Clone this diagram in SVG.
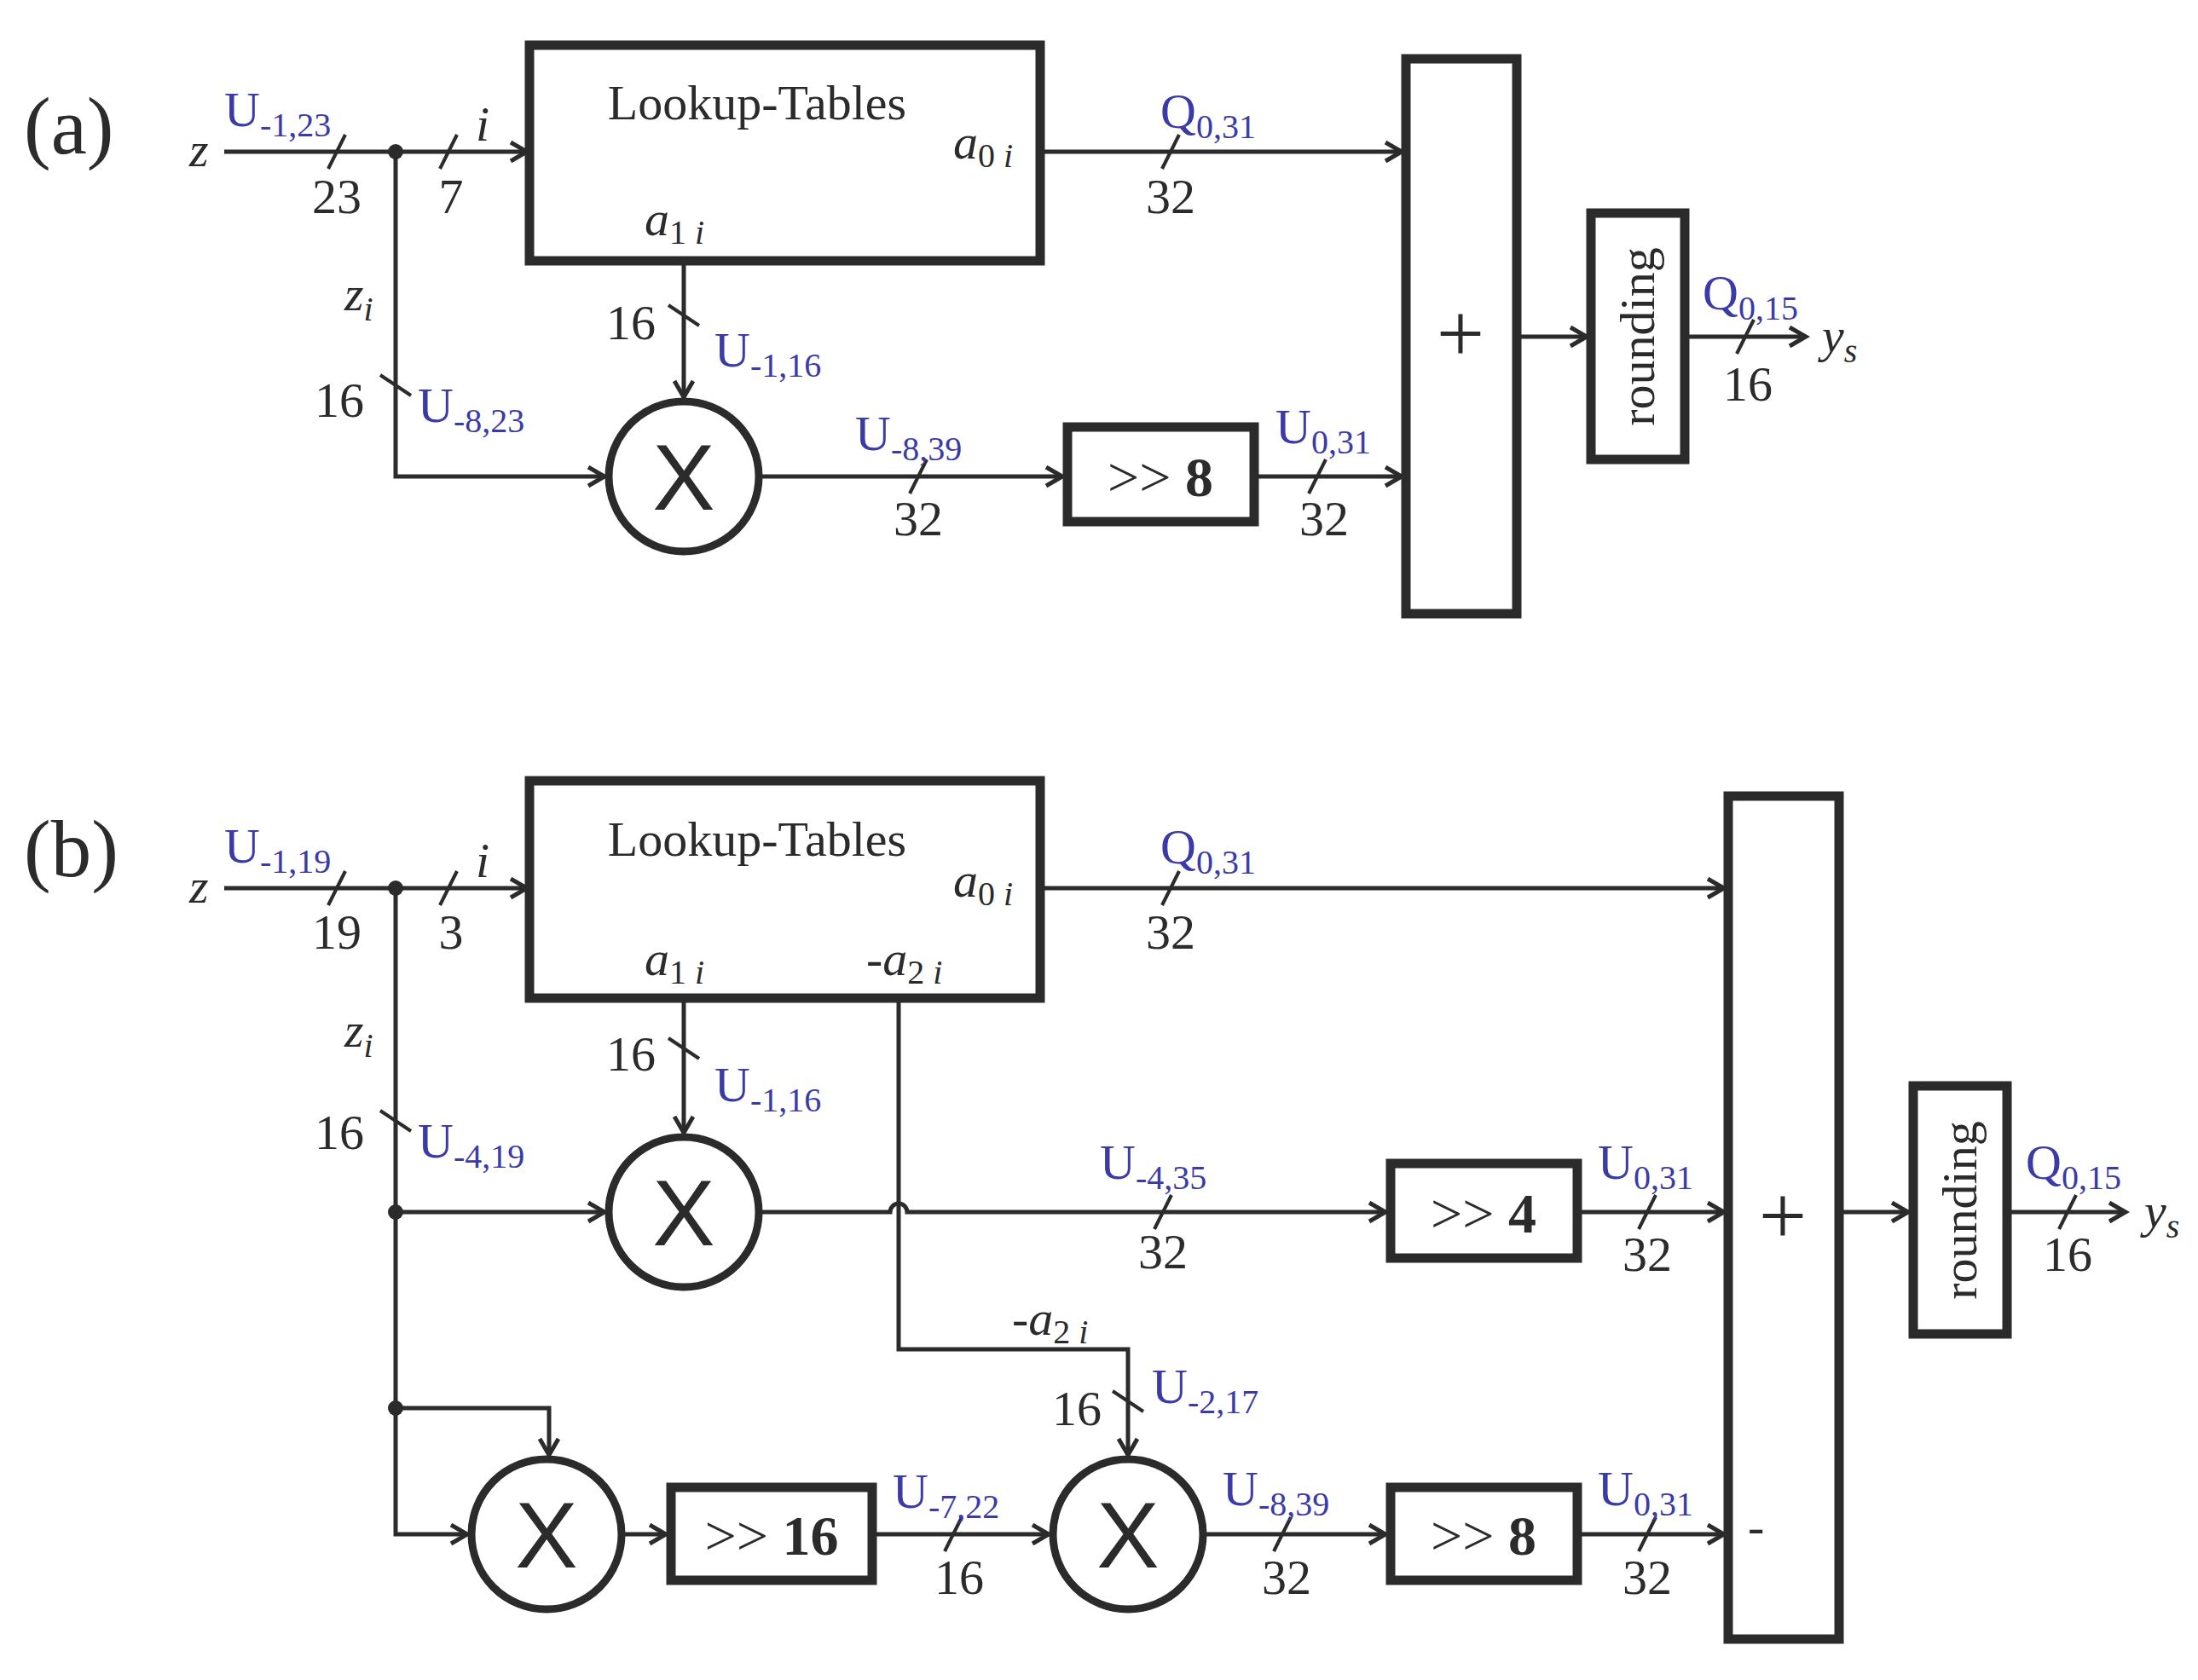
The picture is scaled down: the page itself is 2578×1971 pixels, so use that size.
<svg xmlns="http://www.w3.org/2000/svg" width="2578" height="1971" viewBox="0 0 2578 1971">
<style>
text{font-family:"Liberation Serif","DejaVu Serif",serif;fill:#2b2b2b}
.n{font-size:58px;text-anchor:middle}
.b{fill:#3b3ba8;font-size:58px}
.s{font-size:40px}
.it{font-style:italic}
.w{fill:none;stroke:#2b2b2b;stroke-width:5}
.box{fill:#fff;stroke:#2b2b2b;stroke-width:11}
.c{fill:#fff;stroke:#2b2b2b;stroke-width:9}
.t{stroke:#2b2b2b;stroke-width:4}
.X{font-family:"Liberation Sans",sans-serif;font-size:110px;text-anchor:middle}
.sh{font-size:66px;text-anchor:middle}
</style>
<defs>
<marker id="a" markerUnits="userSpaceOnUse" markerWidth="30" markerHeight="30" refX="22" refY="13" orient="auto"><path d="M3,2 L22,13 L3,24" fill="none" stroke="#2b2b2b" stroke-width="5"/></marker>
</defs>
<text x="28" y="180" font-size="95">(a)</text>
<text x="28" y="1028" font-size="95">(b)</text>
<g id="connectors">
<!-- a -->
<path class="w" d="M263,178 H618" marker-end="url(#a)"/>
<path class="w" d="M1220,178 H1644" marker-end="url(#a)"/>
<path class="w" d="M802,306 V466" marker-end="url(#a)"/>
<path class="w" d="M464,178 V559 H709" marker-end="url(#a)"/>
<path class="w" d="M893,559 H1246" marker-end="url(#a)"/>
<path class="w" d="M1471,559 H1644" marker-end="url(#a)"/>
<path class="w" d="M1779,395 H1861" marker-end="url(#a)"/>
<path class="w" d="M1976,395 H2118" marker-end="url(#a)"/>
<circle cx="464" cy="178" r="9" fill="#2b2b2b"/>
<!-- b -->
<path class="w" d="M263,1042 H618" marker-end="url(#a)"/>
<path class="w" d="M1220,1042 H2022" marker-end="url(#a)"/>
<path class="w" d="M802,1171 V1329" marker-end="url(#a)"/>
<path class="w" d="M464,1042 V1800 H548" marker-end="url(#a)"/>
<path class="w" d="M464,1422 H709" marker-end="url(#a)"/>
<path class="w" d="M464,1652 H644 V1707" marker-end="url(#a)"/>
<path class="w" d="M893,1422 H1044 A10,10 0 0 1 1064,1422 H1625" marker-end="url(#a)"/>
<path class="w" d="M1054,1171 V1583 H1323 V1707" marker-end="url(#a)"/>
<path class="w" d="M1850,1422 H2022" marker-end="url(#a)"/>
<path class="w" d="M732,1800 H781" marker-end="url(#a)"/>
<path class="w" d="M1023,1800 H1230" marker-end="url(#a)"/>
<path class="w" d="M1414,1800 H1625" marker-end="url(#a)"/>
<path class="w" d="M1850,1800 H2022" marker-end="url(#a)"/>
<path class="w" d="M2157,1422 H2238" marker-end="url(#a)"/>
<path class="w" d="M2354,1422 H2493" marker-end="url(#a)"/>
<circle cx="464" cy="1042" r="9" fill="#2b2b2b"/>
<circle cx="464" cy="1422" r="9" fill="#2b2b2b"/>
<circle cx="464" cy="1652" r="9" fill="#2b2b2b"/>
<!-- ticks -->
<g class="t">
<line x1="385" y1="198" x2="405" y2="158"/><line x1="516" y1="198" x2="536" y2="158"/>
<line x1="1363" y1="198" x2="1383" y2="158"/><line x1="1067" y1="579" x2="1087" y2="539"/>
<line x1="1535" y1="579" x2="1555" y2="539"/><line x1="2037" y1="415" x2="2057" y2="375"/>
<line x1="784" y1="358" x2="820" y2="382"/><line x1="446" y1="440" x2="482" y2="464"/>
<line x1="385" y1="1062" x2="405" y2="1022"/><line x1="516" y1="1062" x2="536" y2="1022"/>
<line x1="1363" y1="1062" x2="1383" y2="1022"/><line x1="784" y1="1218" x2="820" y2="1242"/>
<line x1="446" y1="1303" x2="482" y2="1327"/><line x1="1354" y1="1442" x2="1374" y2="1402"/>
<line x1="1922" y1="1442" x2="1942" y2="1402"/><line x1="2415" y1="1442" x2="2435" y2="1402"/>
<line x1="1305" y1="1632" x2="1341" y2="1656"/><line x1="1108" y1="1820" x2="1128" y2="1780"/>
<line x1="1494" y1="1820" x2="1514" y2="1780"/><line x1="1922" y1="1820" x2="1942" y2="1780"/>
</g>
</g>
<g id="lut-a"><rect class="box" x="621" y="53" width="599" height="253"/>
<text x="888" y="140" font-size="58" text-anchor="middle">Lookup-Tables</text>
<text x="1118" y="186" font-size="58" class="it">a<tspan class="s" dy="10" font-style="normal">0</tspan><tspan class="s"> i</tspan></text>
<text x="756" y="276" font-size="58" class="it">a<tspan class="s" dy="10" font-style="normal">1</tspan><tspan class="s"> i</tspan></text></g>
<g id="mult-a"><circle class="c" cx="802" cy="559" r="88"/><text class="X" x="802" y="598">X</text></g>
<g id="shift-a"><rect class="box" x="1252" y="501" width="219" height="111"/><text class="sh" x="1361" y="582">&gt;&gt; <tspan font-weight="bold">8</tspan></text></g>
<g id="add-a"><rect class="box" x="1649" y="69" width="130" height="651"/><text x="1713" y="425" font-size="100" text-anchor="middle" font-family="Liberation Sans">+</text></g>
<g id="round-a"><rect class="box" x="1866" y="250" width="110" height="289"/><text font-size="58" text-anchor="middle" transform="translate(1940,395) rotate(-90)">rounding</text></g>

<g id="lut-b"><rect class="box" x="621" y="916" width="599" height="255"/>
<text x="888" y="1004" font-size="58" text-anchor="middle">Lookup-Tables</text>
<text x="1118" y="1052" font-size="58" class="it">a<tspan class="s" dy="10" font-style="normal">0</tspan><tspan class="s"> i</tspan></text>
<text x="756" y="1144" font-size="58" class="it">a<tspan class="s" dy="10" font-style="normal">1</tspan><tspan class="s"> i</tspan></text>
<text x="1016" y="1144" font-size="58" class="it">-a<tspan class="s" dy="10" font-style="normal">2</tspan><tspan class="s"> i</tspan></text></g>
<g id="mult-b1"><circle class="c" cx="802" cy="1422" r="88"/><text class="X" x="802" y="1461">X</text></g>
<g id="mult-b2"><circle class="c" cx="641" cy="1800" r="88"/><text class="X" x="641" y="1839">X</text></g>
<g id="mult-b3"><circle class="c" cx="1323" cy="1800" r="88"/><text class="X" x="1323" y="1839">X</text></g>
<g id="shift-b4"><rect class="box" x="1631" y="1365" width="219" height="111"/><text class="sh" x="1740" y="1446">&gt;&gt; <tspan font-weight="bold">4</tspan></text></g>
<g id="shift-b16"><rect class="box" x="787" y="1745" width="236" height="109"/><text class="sh" x="905" y="1824">&gt;&gt; <tspan font-weight="bold">16</tspan></text></g>
<g id="shift-b8"><rect class="box" x="1631" y="1745" width="219" height="109"/><text class="sh" x="1740" y="1824">&gt;&gt; <tspan font-weight="bold">8</tspan></text></g>
<g id="add-b"><rect class="box" x="2027" y="934" width="130" height="989"/><text x="2091" y="1460" font-size="100" text-anchor="middle" font-family="Liberation Sans">+</text><text x="2050" y="1810" font-size="58">-</text></g>
<g id="round-b"><rect class="box" x="2244" y="1274" width="110" height="291"/><text font-size="58" text-anchor="middle" transform="translate(2318,1420) rotate(-90)">rounding</text></g>

<g id="labels">
<text x="222" y="195" font-size="58" class="it">z</text>
<text x="222" y="1059" font-size="58" class="it">z</text>
<text x="558" y="165" font-size="58" class="it">i</text>
<text x="558" y="1029" font-size="58" class="it">i</text>
<text x="404" y="364" font-size="58" class="it">z<tspan class="s" dy="12">i</tspan></text>
<text x="404" y="1228" font-size="58" class="it">z<tspan class="s" dy="12">i</tspan></text>
<text x="2137" y="413" font-size="58" class="it">y<tspan class="s" dy="12">s</tspan></text>
<text x="2515" y="1440" font-size="58" class="it">y<tspan class="s" dy="12">s</tspan></text>
<text x="1187" y="1566" font-size="58" class="it">-a<tspan class="s" dy="10" font-style="normal">2</tspan><tspan class="s"> i</tspan></text>
<text class="n" x="395" y="250">23</text><text class="n" x="529" y="250">7</text>
<text class="n" x="1373" y="250">32</text><text class="n" x="740" y="398">16</text>
<text class="n" x="398" y="489">16</text><text class="n" x="1077" y="628">32</text>
<text class="n" x="1553" y="628">32</text><text class="n" x="2050" y="470">16</text>
<text class="n" x="395" y="1113">19</text><text class="n" x="529" y="1113">3</text>
<text class="n" x="1373" y="1113">32</text><text class="n" x="740" y="1256">16</text>
<text class="n" x="398" y="1348">16</text><text class="n" x="1364" y="1488">32</text>
<text class="n" x="1932" y="1491">32</text><text class="n" x="2425" y="1491">16</text>
<text class="n" x="1263" y="1672">16</text><text class="n" x="1125" y="1870">16</text>
<text class="n" x="1509" y="1870">32</text><text class="n" x="1932" y="1870">32</text>
<text class="b" x="263" y="148">U<tspan class="s" dy="12">-1,23</tspan></text>
<text class="b" x="1361" y="150">Q<tspan class="s" dy="12">0,31</tspan></text>
<text class="b" x="838" y="430">U<tspan class="s" dy="12">-1,16</tspan></text>
<text class="b" x="490" y="495">U<tspan class="s" dy="12">-8,23</tspan></text>
<text class="b" x="1003" y="528">U<tspan class="s" dy="12">-8,39</tspan></text>
<text class="b" x="1496" y="520">U<tspan class="s" dy="12">0,31</tspan></text>
<text class="b" x="1997" y="363">Q<tspan class="s" dy="12">0,15</tspan></text>
<text class="b" x="263" y="1012">U<tspan class="s" dy="12">-1,19</tspan></text>
<text class="b" x="1361" y="1013">Q<tspan class="s" dy="12">0,31</tspan></text>
<text class="b" x="838" y="1292">U<tspan class="s" dy="12">-1,16</tspan></text>
<text class="b" x="490" y="1358">U<tspan class="s" dy="12">-4,19</tspan></text>
<text class="b" x="1290" y="1383">U<tspan class="s" dy="12">-4,35</tspan></text>
<text class="b" x="1874" y="1383">U<tspan class="s" dy="12">0,31</tspan></text>
<text class="b" x="2376" y="1383">Q<tspan class="s" dy="12">0,15</tspan></text>
<text class="b" x="1351" y="1646">U<tspan class="s" dy="12">-2,17</tspan></text>
<text class="b" x="1047" y="1769">U<tspan class="s" dy="12">-7,22</tspan></text>
<text class="b" x="1434" y="1766">U<tspan class="s" dy="12">-8,39</tspan></text>
<text class="b" x="1874" y="1766">U<tspan class="s" dy="12">0,31</tspan></text>
</g>
</svg>
